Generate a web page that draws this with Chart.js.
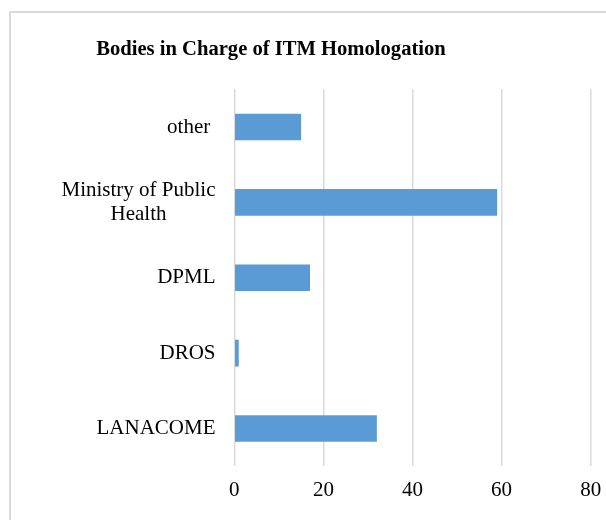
<!DOCTYPE html>
<html>
<head>
<meta charset="utf-8">
<script src="https://cdn.jsdelivr.net/npm/chart.js@4/dist/chart.umd.min.js"></script>
<style>
  html, body { margin: 0; padding: 0; background: #ffffff; overflow: hidden; }
  #wrap { position: relative; width: 606px; height: 520px; }
</style>
</head>
<body>
<div id="wrap"><canvas id="c" width="606" height="520"></canvas></div>
<script>
const titleText = 'Bodies in Charge of ITM Homologation';
const categories = ['other ', ['Ministry of Public', 'Health'], 'DPML', 'DROS', 'LANACOME'];
const values = [15, 59, 17, 1, 32];
const xTicks = [0, 20, 40, 60, 80];

const FONT = "'Liberation Serif', 'Times New Roman', serif";

const decor = {
  id: 'decor',
  beforeDraw(chart) {
    const ctx = chart.ctx;
    ctx.save();
    ctx.strokeStyle = '#d9d9d9';
    ctx.lineWidth = 2;
    ctx.strokeRect(10, 12, 700, 600);
    ctx.restore();
  },
  afterDraw(chart) {
    const ctx = chart.ctx;
    ctx.save();
    ctx.fillStyle = '#000000';
    ctx.font = 'bold 20.6px ' + FONT;
    ctx.textAlign = 'center';
    ctx.textBaseline = 'middle';
    ctx.fillText(titleText, 271, 50);
    const y = chart.scales.y;
    ctx.font = '21px ' + FONT;
    const rightX = 215.5;
    const lh = 24;
    categories.forEach((lab, i) => {
      const lines = Array.isArray(lab) ? lab : [lab];
      const cy = y.getPixelForTick(i);
      const w = Math.max(...lines.map(l => ctx.measureText(l).width));
      const cx = rightX - w / 2;
      ctx.textAlign = 'center';
      lines.forEach((l, j) => {
        const ly = cy + (j - (lines.length - 1) / 2) * lh;
        ctx.fillText(l, cx, ly);
      });
    });
    ctx.restore();
  }
};

new Chart(document.getElementById('c'), {
  type: 'bar',
  data: {
    labels: categories,
    datasets: [{
      data: values,
      backgroundColor: '#5b9bd5',
      borderWidth: 0,
      categoryPercentage: 1,
      barPercentage: 0.352
    }]
  },
  options: {
    indexAxis: 'y',
    responsive: false,
    animation: false,
    devicePixelRatio: 1,
    layout: { padding: { top: 89.3, left: 0, right: 15.3, bottom: 4.6 } },
    plugins: { legend: { display: false }, title: { display: false }, tooltip: { enabled: false } },
    scales: {
      x: {
        min: 0, max: 80,
        afterBuildTicks(scale) { scale.ticks = xTicks.map(v => ({ value: v })); },
        afterFit(scale) { scale.paddingRight = 0; scale.paddingLeft = 0; },
        grid: { color: '#d9d9d9', lineWidth: 1.5, drawTicks: false },
        border: { display: false },
        ticks: { color: '#000000', font: { family: FONT, size: 21 }, padding: 12 }
      },
      y: {
        grid: { display: false },
        border: { display: false },
        ticks: { display: false },
        afterFit(scale) { scale.width = 234.3; }
      }
    }
  },
  plugins: [decor]
});
</script>
</body>
</html>
